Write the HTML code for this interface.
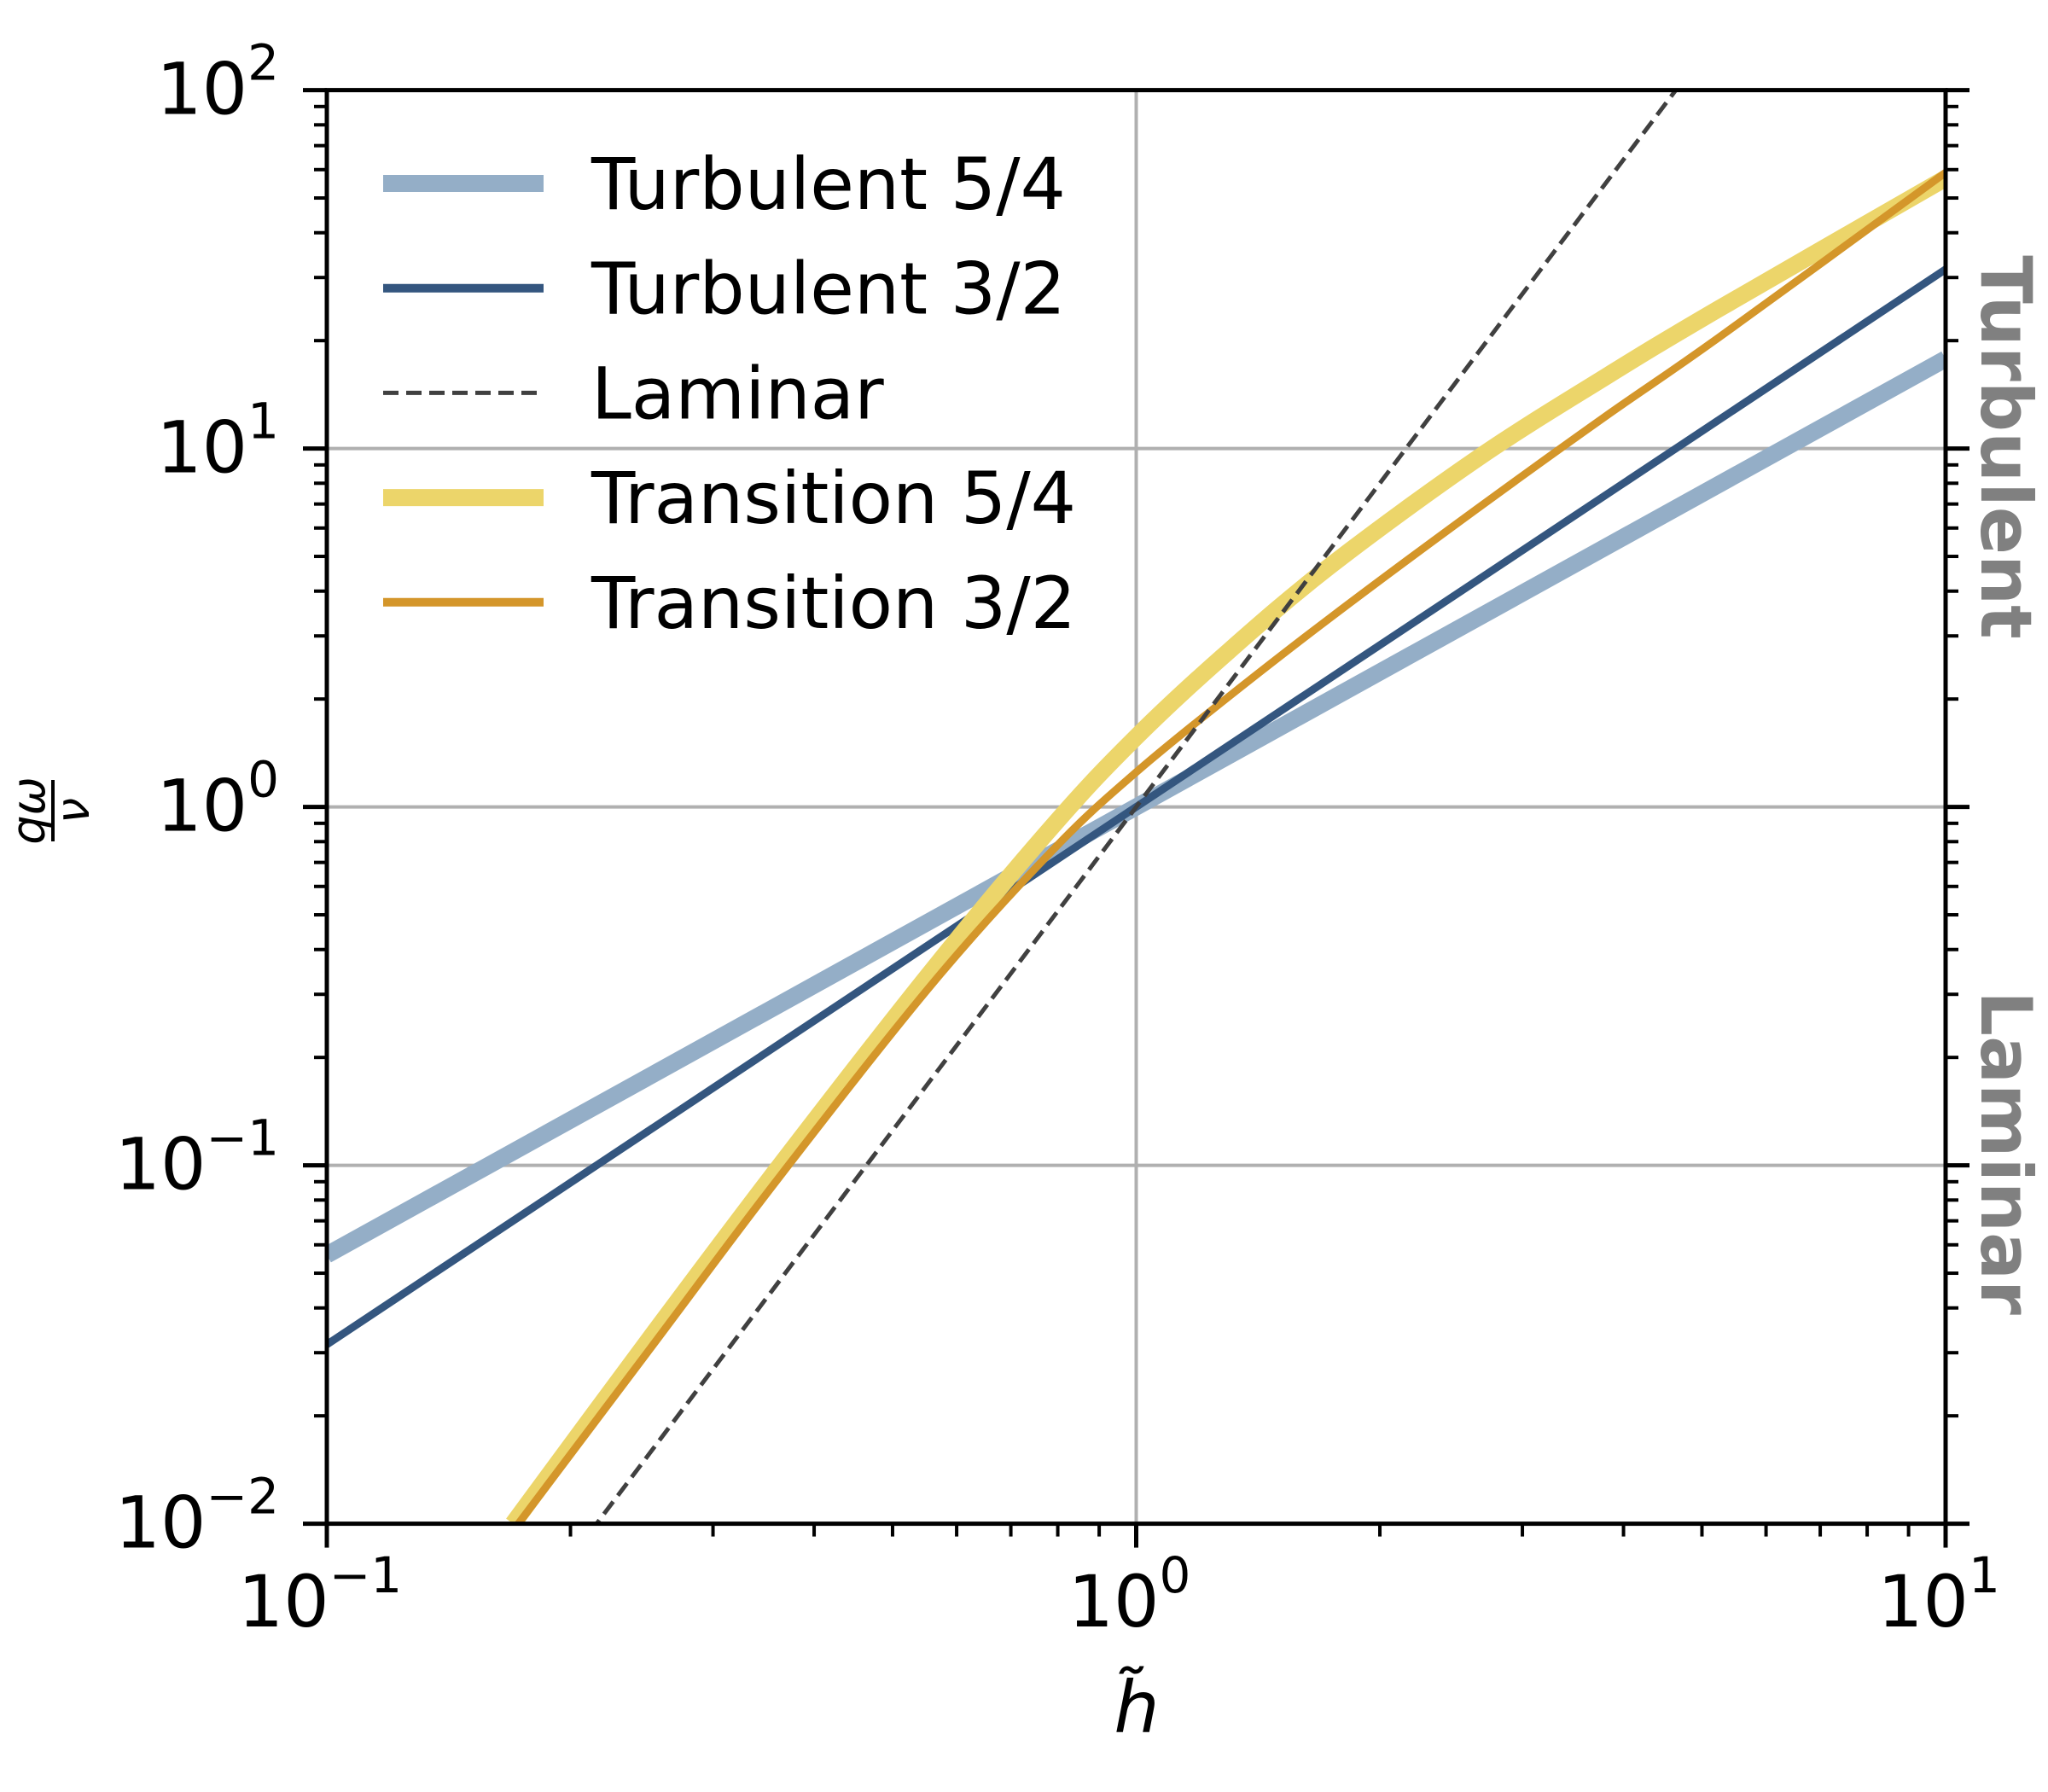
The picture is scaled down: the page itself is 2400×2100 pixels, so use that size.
<!DOCTYPE html>
<html><head><meta charset="utf-8"><style>
html,body{margin:0;padding:0;background:#fff;overflow:hidden;width:2400px;height:2100px;}
svg{display:block;font-family:"DejaVu Sans","Liberation Sans",sans-serif;}
</style></head><body>
<svg id="chart" width="2400" height="2100" viewBox="0 0 2400 2100" xmlns="http://www.w3.org/2000/svg">
<defs><clipPath id="plotclip"><rect x="383" y="105.6" width="1897" height="1680"/></clipPath></defs>
<rect width="2400" height="2100" fill="#fff"/>
<g id="grid"></g>
<g id="series" clip-path="url(#plotclip)"></g>
<g id="axes"></g>
<g id="legend"></g>
<text transform="translate(2322,524) rotate(90)" text-anchor="middle" font-size="83" font-weight="bold" fill="#808080">Turbulent</text>
<text transform="translate(2322,1351) rotate(90)" text-anchor="middle" font-size="83" font-weight="bold" fill="#808080">Laminar</text>
<text x="1332" y="2030" text-anchor="middle" font-size="84" font-style="italic">h̃</text>
<g transform="translate(60,950) rotate(-90)">
<text x="0" y="-8" text-anchor="middle" font-size="54" font-style="italic">qω</text>
<line x1="-36" y1="2" x2="36" y2="2" stroke="#000" stroke-width="4"/>
<text x="0" y="44" text-anchor="middle" font-size="54" font-style="italic">ν</text>
</g>
</svg>
<script>
const xLogMin=-1, xLogMax=1, yLogMin=-2, yLogMax=2;
const xDecades=[-1,0,1];
const yDecades=[-2,-1,0,1,2];
const xTickExps=["−1","0","1"];
const yTickExps=["−2","−1","0","1","2"];
const turb54Exponent=1.25;
const turb32Exponent=1.5;
const laminarExponent=3;
const analyticLogH=[-1,1];
const transLogH=[-0.77,-0.6,-0.44,-0.25,-0.1,0,0.11,0.24,0.42,0.58,0.72,1.0];
const trans54LogQ=[-2.0,-1.48,-1.0,-0.45,-0.045,0.195,0.426,0.673,0.97,1.20,1.39,1.754];
const trans32LogQ=[-2.02,-1.51,-1.03,-0.488,-0.113,0.097,0.30,0.528,0.83,1.09,1.31,1.77];
const legendLabels=["Turbulent 5/4","Turbulent 3/2","Laminar","Transition 5/4","Transition 3/2"];

const L=383,R=2280,T=105.6,B=1785.6;
const NS="http://www.w3.org/2000/svg";
function sx(lx){return L+(lx-xLogMin)/(xLogMax-xLogMin)*(R-L);}
function sy(ly){return B-(ly-yLogMin)/(yLogMax-yLogMin)*(B-T);}
function mk(tag,attrs,parent){const e=document.createElementNS(NS,tag);for(const k in attrs)e.setAttribute(k,attrs[k]);parent.appendChild(e);return e;}
const grid=document.getElementById('grid'),series=document.getElementById('series'),axes=document.getElementById('axes'),legend=document.getElementById('legend');

xDecades.forEach(d=>{if(d>xLogMin&&d<xLogMax){const g=mk('line',{x1:sx(d),x2:sx(d),y1:T,y2:B,stroke:'#b0b0b0','stroke-width':4},grid);

}});
yDecades.forEach(d=>{if(d>yLogMin&&d<yLogMax){const g=mk('line',{x1:L,x2:R,y1:sy(d),y2:sy(d),stroke:'#b0b0b0','stroke-width':4},grid);

}});

function pathFrom(xs,ys){return xs.map((x,i)=>(i?'L':'M')+sx(x).toFixed(1)+','+sy(ys[i]).toFixed(1)).join(' ');}
function smoothPath(xs,ys){let pts=xs.map((x,i)=>[sx(x),sy(ys[i])]);let d='M'+pts[0][0]+','+pts[0][1];
for(let i=0;i<pts.length-1;i++){const p0=pts[Math.max(0,i-1)],p1=pts[i],p2=pts[i+1],p3=pts[Math.min(pts.length-1,i+2)];
const c1=[p1[0]+(p2[0]-p0[0])/6,p1[1]+(p2[1]-p0[1])/6],c2=[p2[0]-(p3[0]-p1[0])/6,p2[1]-(p3[1]-p1[1])/6];
d+=` C${c1[0].toFixed(1)},${c1[1].toFixed(1)} ${c2[0].toFixed(1)},${c2[1].toFixed(1)} ${p2[0].toFixed(1)},${p2[1].toFixed(1)}`;}return d;}
const t54=mk('path',{d:pathFrom(analyticLogH,analyticLogH.map(x=>turb54Exponent*x)),stroke:'#94aec7','stroke-width':20,fill:'none'},series);


const t32=mk('path',{d:pathFrom(analyticLogH,analyticLogH.map(x=>turb32Exponent*x)),stroke:'#34567f','stroke-width':9,fill:'none'},series);


const tr54=mk('path',{d:smoothPath(transLogH,trans54LogQ),stroke:'#ecd56a','stroke-width':20,fill:'none'},series);


const tr32=mk('path',{d:smoothPath(transLogH,trans32LogQ),stroke:'#d4962a','stroke-width':9,fill:'none'},series);


const lam=mk('path',{d:pathFrom(analyticLogH,analyticLogH.map(x=>laminarExponent*x)),stroke:'#404040','stroke-width':5,fill:'none','stroke-dasharray':'18 9'},series);



const sp=mk('rect',{x:L,y:T,width:R-L,height:B-T,fill:'none',stroke:'#000','stroke-width':5},axes);



for(let d=yLogMin;d<=yLogMax;d++){
  for(let m=1;m<=9;m++){
    const v=d+Math.log10(m); if(v>yLogMax+1e-9)break;
    const len=m===1?28:15, w=m===1?5:4, y=sy(v);
    const a=mk('line',{x1:L-len,x2:L,y1:y,y2:y,stroke:'#000','stroke-width':w},axes);
    
    
    const b=mk('line',{x1:R,x2:R+len,y1:y,y2:y,stroke:'#000','stroke-width':w},axes);
    
    
  }
}
yDecades.forEach((d,i)=>{
  const t=mk('text',{x:327,y:sy(d)+28,'text-anchor':'end','font-size':84},axes);
  
  
  t.innerHTML='10<tspan dy="-40" font-size="58">'+yTickExps[i]+'</tspan>';
});
for(let d=xLogMin;d<=xLogMax;d++){
  for(let m=1;m<=9;m++){
    const v=d+Math.log10(m); if(v>xLogMax+1e-9)break;
    const len=m===1?28:15, w=m===1?5:4, x=sx(v);
    const a=mk('line',{x1:x,x2:x,y1:B,y2:B+len,stroke:'#000','stroke-width':w},axes);
    
    
  }
}
xDecades.forEach((d,i)=>{
  const t=mk('text',{x:sx(d)-8,y:1906,'text-anchor':'middle','font-size':84},axes);
  
  
  t.innerHTML='10<tspan dy="-40" font-size="58">'+xTickExps[i]+'</tspan>';
});

const legStyles=[{c:'#94aec7',w:20},{c:'#34567f',w:10},{c:'#404040',w:5,dash:'18 9'},{c:'#ecd56a',w:20},{c:'#d4962a',w:10}];
legendLabels.forEach((lab,i)=>{
  const y=215+i*122.7, s=legStyles[i];
  const g=mk('g',{},legend);
  
  
  const ln=mk('line',{x1:449,x2:637,y1:y,y2:y,stroke:s.c,'stroke-width':s.w},g);
  if(s.dash)ln.setAttribute('stroke-dasharray',s.dash);
  const t=mk('text',{x:693,y:y+30,'font-size':84},g);
  t.textContent=lab;
});
</script>
</body></html>
